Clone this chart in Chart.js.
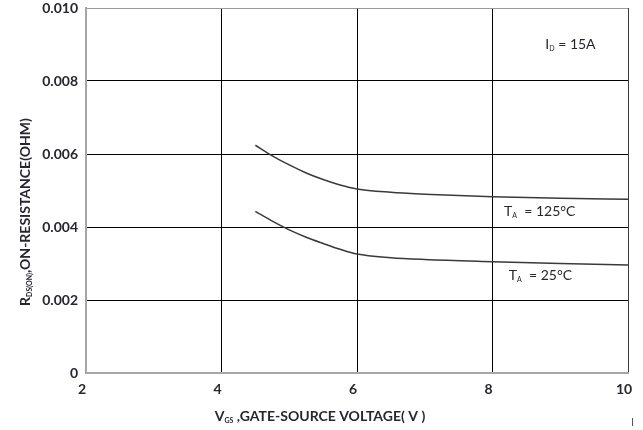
<!DOCTYPE html>
<html>
<head>
<meta charset="utf-8">
<script src="https://cdn.jsdelivr.net/npm/chart.js@4/dist/chart.umd.min.js"></script>
<style>
  html, body { margin: 0; padding: 0; background: #ffffff; }
  canvas { display: block; }
</style>
</head>
<body>
<canvas id="rdsChart" width="643" height="430"></canvas>
<script>
// Gate-source voltage (V) sample points along each curve
const gateVoltage = [4.5, 4.75, 5.0, 5.25, 5.5, 5.75, 6.0, 6.5, 7.0, 8.0, 9.0, 10.0];
// On-resistance (ohm) at TA = 125 °C
const rdsOn125 = [0.00624, 0.00595, 0.00570, 0.00548, 0.00530, 0.00515, 0.00504, 0.00495, 0.00490, 0.00483, 0.00479, 0.00476];
// On-resistance (ohm) at TA = 25 °C
const rdsOn25 = [0.00443, 0.00416, 0.00392, 0.00372, 0.00355, 0.00339, 0.00326, 0.00316, 0.00311, 0.00305, 0.00300, 0.00296];
// Axis ticks
const xTicks = [2, 4, 6, 8, 10];
const yTicks = [0, 0.002, 0.004, 0.006, 0.008, 0.010];

const TEXT = '#262630';
const FONT = 'Lato, "DejaVu Sans", sans-serif';

function toPoints(xs, ys) {
  return xs.map((x, i) => ({ x: x, y: ys[i] }));
}

// Draw a run of text pieces, some of them as subscripts
function drawRich(ctx, x, y, parts, size, weight, align) {
  const subSize = Math.round(size * 0.5);
  const widths = parts.map(p => {
    ctx.font = weight + ' ' + (p.sub ? subSize : size) + 'px ' + FONT;
    return ctx.measureText(p.t).width;
  });
  const total = widths.reduce((a, b) => a + b, 0);
  let cx = align === 'center' ? x - total / 2 : x;
  ctx.textBaseline = 'alphabetic';
  ctx.textAlign = 'left';
  parts.forEach((p, i) => {
    ctx.font = weight + ' ' + (p.sub ? subSize : size) + 'px ' + FONT;
    ctx.fillText(p.t, cx, y + (p.sub ? 2 : 0));
    cx += widths[i];
  });
}

const textPlugin = {
  id: 'chartText',
  afterDraw(chart) {
    const ctx = chart.ctx;
    const xs = chart.scales.x, ys = chart.scales.y;
    ctx.save();
    ctx.fillStyle = TEXT;

    // Axis titles
    drawRich(ctx, 320, 421, [
      { t: 'V' }, { t: 'GS', sub: true }, { t: ' ,GATE-SOURCE VOLTAGE( V )' }
    ], 14, 'bold', 'center');

    ctx.save();
    ctx.translate(30, 212);
    ctx.rotate(-Math.PI / 2);
    drawRich(ctx, 0, 0, [
      { t: 'R' }, { t: 'DS(ON)', sub: true }, { t: ',ON-RESISTANCE(OHM)' }
    ], 14, 'bold', 'center');
    ctx.restore();

    // Curve and condition labels
    drawRich(ctx, xs.getPixelForValue(8.17), ys.getPixelForValue(0.00444) + 5, [
      { t: 'T' }, { t: 'A', sub: true }, { t: '  = 125\u00B0C' }
    ], 14, 'normal', 'left');
    drawRich(ctx, xs.getPixelForValue(8.24), ys.getPixelForValue(0.00268) + 5, [
      { t: 'T' }, { t: 'A', sub: true }, { t: '  = 25\u00B0C' }
    ], 14, 'normal', 'left');
    drawRich(ctx, xs.getPixelForValue(8.78), ys.getPixelForValue(0.00901) + 5, [
      { t: 'I' }, { t: 'D', sub: true }, { t: ' = 15A' }
    ], 14, 'normal', 'left');

    // small tick mark below the lower-right corner
    ctx.strokeStyle = '#555';
    ctx.lineWidth = 1;
    ctx.beginPath();
    ctx.moveTo(632.5, 418);
    ctx.lineTo(632.5, 426);
    ctx.stroke();
    ctx.restore();
  }
};

const curveStyle = {
  borderColor: '#3a3a3a',
  borderWidth: 1.5,
  pointRadius: 0,
  fill: false,
  cubicInterpolationMode: 'monotone'
};

new Chart(document.getElementById('rdsChart'), {
  type: 'line',
  data: {
    datasets: [
      Object.assign({ label: 'TA = 125°C', data: toPoints(gateVoltage, rdsOn125) }, curveStyle),
      Object.assign({ label: 'TA = 25°C', data: toPoints(gateVoltage, rdsOn25) }, curveStyle)
    ]
  },
  options: {
    responsive: false,
    animation: false,
    devicePixelRatio: 1,
    layout: { padding: { top: 8, right: 15, left: 0, bottom: 0 } },
    plugins: { legend: { display: false }, tooltip: { enabled: false } },
    scales: {
      x: {
        type: 'linear',
        min: xTicks[0],
        max: xTicks[xTicks.length - 1],
        afterBuildTicks: s => { s.ticks = xTicks.map(v => ({ value: v })); },
        afterFit: s => { s.height = 57; s.paddingLeft = 0; s.paddingRight = 0; },
        ticks: {
          color: TEXT,
          font: { family: FONT, size: 14, weight: 'bold' },
          padding: 8,
          labelOffset: -4,
          maxRotation: 0,
          autoSkip: false
        },
        grid: {
          drawTicks: false,
          lineWidth: 1,
          color: c => (c.tick && c.tick.value === 10) ? '#3c3c3c' : '#000000'
        },
        border: { color: '#a6a6a6', width: 2 }
      },
      y: {
        type: 'linear',
        min: yTicks[0],
        max: yTicks[yTicks.length - 1],
        afterBuildTicks: s => { s.ticks = yTicks.map(v => ({ value: v })); },
        afterFit: s => { s.width = 86; s.paddingTop = 0; s.paddingBottom = 0; },
        ticks: {
          color: TEXT,
          font: { family: FONT, size: 14, weight: 'bold' },
          padding: 8,
          callback: v => (v === 0 ? '0' : v.toFixed(3))
        },
        grid: {
          drawTicks: false,
          lineWidth: 1,
          color: c => (c.tick && Math.abs(c.tick.value - 0.010) < 1e-9) ? '#9a9a9a' : '#000000'
        },
        border: { color: '#a6a6a6', width: 2 }
      }
    }
  },
  plugins: [textPlugin]
});
</script>
</body>
</html>
